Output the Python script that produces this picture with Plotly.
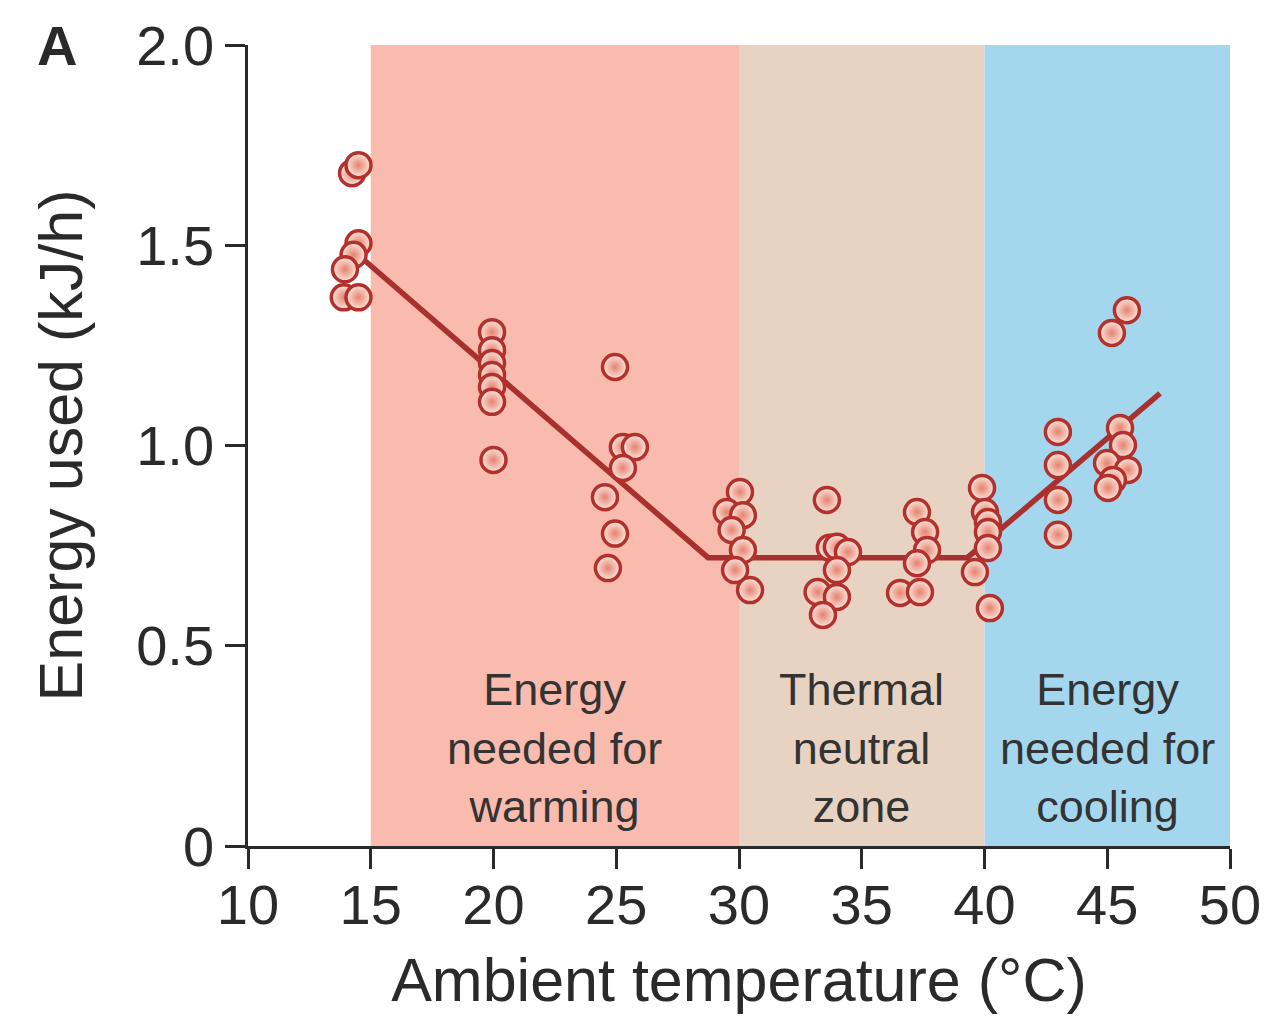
import plotly.graph_objects as go

# Measured metabolic rate vs. ambient temperature
temp_c = [
    14.24, 14.5, 14.5, 14.3, 13.95, 13.9, 14.5,
    19.94, 19.94, 19.94, 19.94, 19.94, 19.94, 20.0,
    24.95, 25.27, 25.76, 25.27, 24.54, 24.95, 24.66,
    30.04, 29.5, 30.16, 29.7, 30.16, 29.84, 30.45,
    33.58, 33.7, 33.99, 34.44, 33.99, 33.2, 33.99, 33.42,
    37.25, 37.58, 37.66, 37.25, 36.56, 37.37,
    39.9, 40.02, 40.14, 40.14, 40.14, 39.61, 40.22,
    42.99, 42.99, 42.99, 42.99,
    45.8, 45.19, 45.52, 45.64, 44.99, 45.84, 45.23, 45.03,
]
energy_kj_h = [
    1.68, 1.70, 1.505, 1.476, 1.44, 1.37, 1.37,
    1.283, 1.238, 1.206, 1.176, 1.146, 1.109, 0.964,
    1.196, 0.996, 0.996, 0.944, 0.871, 0.78, 0.694,
    0.884, 0.834, 0.826, 0.789, 0.739, 0.689, 0.639,
    0.864, 0.745, 0.747, 0.734, 0.689, 0.634, 0.622, 0.577,
    0.834, 0.784, 0.739, 0.706, 0.632, 0.634,
    0.894, 0.834, 0.809, 0.784, 0.744, 0.684, 0.594,
    1.034, 0.951, 0.864, 0.777,
    1.338, 1.281, 1.044, 1.001, 0.956, 0.939, 0.914, 0.894,
]

# Piecewise-linear fit
fit_x = [14.6, 28.74, 39.3, 47.15]
fit_y = [1.47, 0.72, 0.72, 1.13]

# Temperature zones
zone_start = [15, 30, 40]
zone_end = [30, 40, 50]
zone_colors = ["#F8BBAD", "#E8D3C3", "#A4D7EE"]
zone_labels = [
    "Energy<br>needed for<br>warming",
    "Thermal<br>neutral<br>zone",
    "Energy<br>needed for<br>cooling",
]

x_ticks = [10, 15, 20, 25, 30, 35, 40, 45, 50]
y_ticks = [0, 0.5, 1.0, 1.5, 2.0]
y_tick_text = ["0", "0.5", "1.0", "1.5", "2.0"]

FONT = "Liberation Sans, Arial, Helvetica, sans-serif"
TEXT = "#2a2a2a"
DARK_RED = "#A8302E"

fig = go.Figure()

fig.add_trace(go.Scatter(
    x=fit_x, y=fit_y, mode="lines",
    line=dict(color=DARK_RED, width=5.5),
    hoverinfo="skip", showlegend=False,
))

fig.add_trace(go.Scatter(
    x=temp_c, y=energy_kj_h, mode="markers",
    marker=dict(
        size=25,
        color="#FDE8DE",
        gradient=dict(type="radial", color="#E58270"),
        line=dict(color="#B3312D", width=3.5),
    ),
    showlegend=False,
))

shapes = []
annotations = []
for x0, x1, col, lab in zip(zone_start, zone_end, zone_colors, zone_labels):
    shapes.append(dict(
        type="rect", xref="x", yref="y", x0=x0, x1=x1, y0=0, y1=2.0,
        fillcolor=col, line=dict(width=0), layer="below",
    ))
    annotations.append(dict(
        x=(x0 + x1) / 2, y=0.245, xref="x", yref="y", text=lab,
        showarrow=False, align="center",
        font=dict(family=FONT, size=45, color="#333333"),
    ))

# panel letter, placed in axis-domain coordinates
annotations.append(dict(
    xref="x domain", yref="y domain",
    x=(57 - 248) / 982, y=(846 - 45) / 801,
    text="<b>A</b>", showarrow=False, xanchor="center", yanchor="middle",
    font=dict(family=FONT, size=56, color=TEXT),
))

fig.update_layout(
    width=1282, height=1023,
    margin=dict(l=248, r=52, t=45, b=177),
    plot_bgcolor="white", paper_bgcolor="white",
    font=dict(family=FONT, color=TEXT),
    shapes=shapes, annotations=annotations,
)

fig.update_xaxes(
    range=[10, 50], tickvals=x_ticks,
    showgrid=False, zeroline=False,
    showline=True, linecolor=TEXT, linewidth=2.5,
    ticks="outside", ticklen=20, tickwidth=2.5, tickcolor=TEXT,
    ticklabelstandoff=-12,
    tickfont=dict(family=FONT, size=56, color=TEXT),
    title=dict(text="Ambient temperature (°C)", standoff=24,
               font=dict(family=FONT, size=61, color=TEXT)),
)
fig.update_yaxes(
    range=[0, 2.0], tickvals=y_ticks, ticktext=y_tick_text,
    showgrid=False, zeroline=False,
    showline=True, linecolor=TEXT, linewidth=2.5,
    ticks="outside", ticklen=20, tickwidth=2.5, tickcolor=TEXT,
    tickfont=dict(family=FONT, size=56, color=TEXT),
    title=dict(text="Energy used (kJ/h)", standoff=34,
               font=dict(family=FONT, size=61, color=TEXT)),
)

fig.write_html("out.html")
